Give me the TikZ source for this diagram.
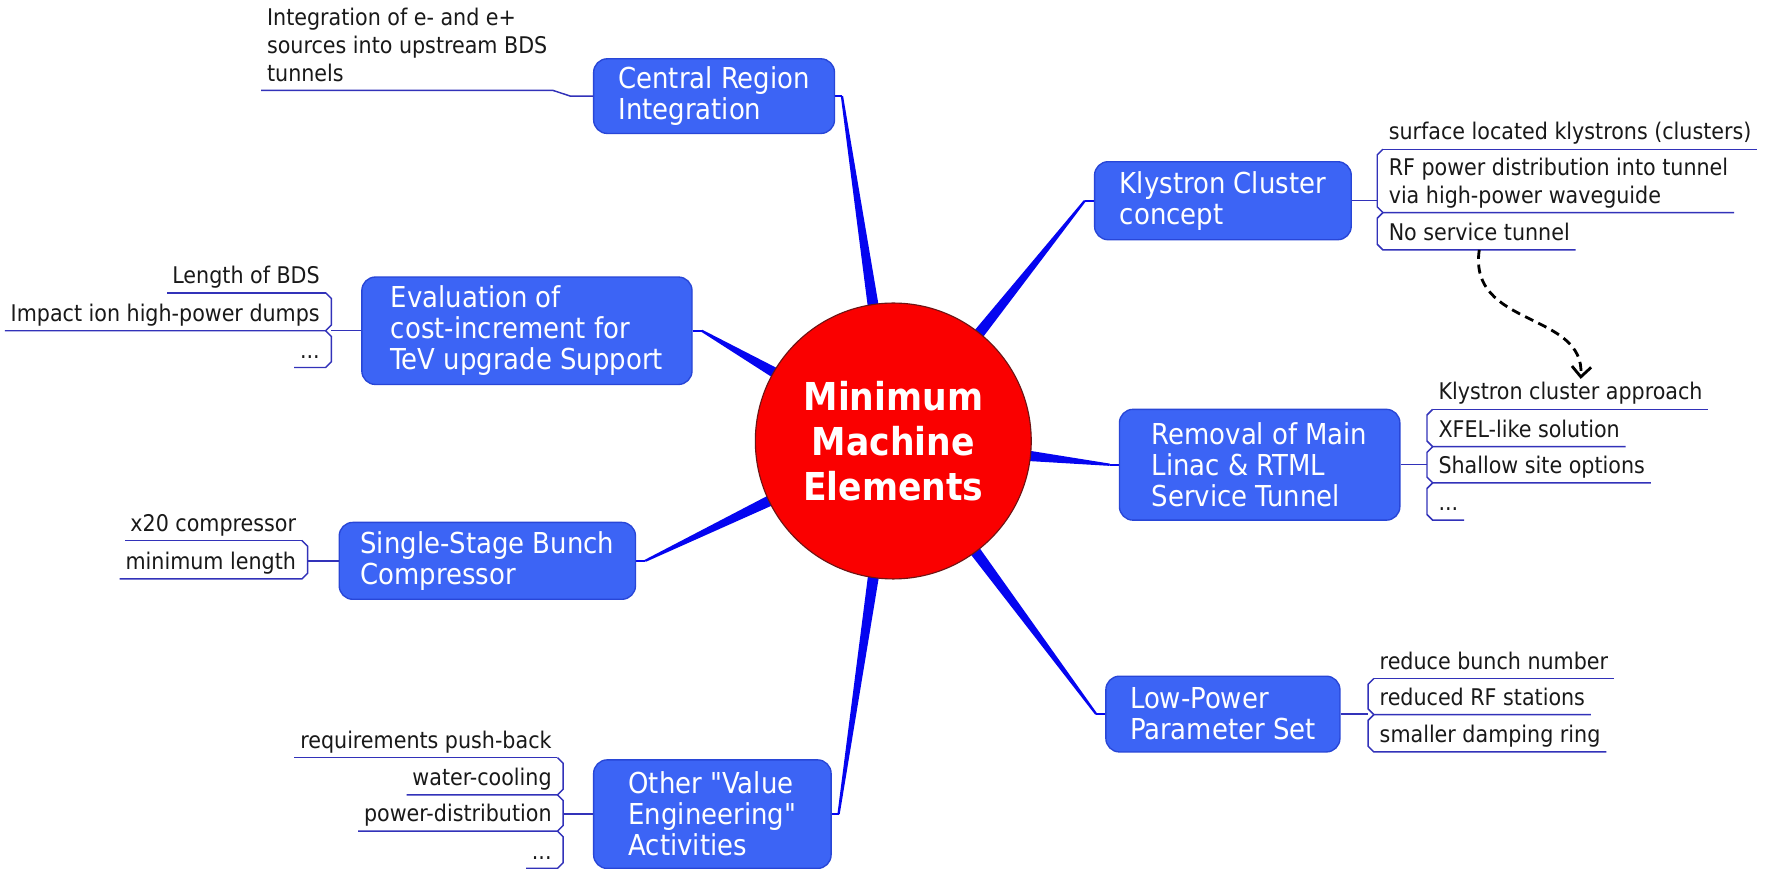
\documentclass[tikz,border=0pt]{standalone}
\usepackage{fontspec}
\usetikzlibrary{calc,arrows.meta}
\newfontfamily\mmfont{DejaVu Sans Condensed}
\definecolor{boxblue}{RGB}{60,100,245}
\definecolor{boxedge}{RGB}{40,70,215}
\definecolor{spokeblue}{RGB}{5,5,240}
\definecolor{ulblue}{RGB}{50,50,185}
\definecolor{txt}{RGB}{25,25,25}
\definecolor{hubred}{RGB}{250,0,0}
\definecolor{hubedge}{RGB}{110,20,20}
\newcommand\lowstrut{\rule[-0.25em]{0pt}{0.8em}}
\newcommand\spokeline[1]{%
  \coordinate (sq) at ($(hub.center)!112pt!(#1)$);
  \fill[spokeblue] ($(sq)!5pt!90:(#1)$) -- ($(#1)!1pt!-90:(sq)$) -- ($(#1)!1pt!90:(sq)$) -- ($(sq)!5pt!-90:(#1)$) -- cycle;}
\pgfdeclarelayer{bg}
\pgfsetlayers{bg,main}
\tikzset{
  mbox/.style={draw=boxedge, fill=boxblue, line width=1.2pt, rounded corners=12pt,
    text=white, align=left, inner sep=0pt, font=\mmfont\fontsize{25.5}{27.5}\selectfont},
  hubnode/.style={circle, fill=hubred, draw=hubedge, line width=1pt, minimum size=244pt,
    text=white, align=center, inner sep=0pt, font=\mmfont\bfseries\fontsize{34}{40}\selectfont},
  subr/.style={anchor=south west, text=txt, inner xsep=5pt, inner ysep=3pt, align=left,
    font=\mmfont\fontsize{20.3}{24.5}\selectfont, execute at end node=\lowstrut},
  subl/.style={subr, anchor=south east, align=right},
  subline/.style={draw=ulblue, line width=1.3pt},
  stub/.style={draw=spokeblue, line width=1.5pt},
  linkarrow/.style={draw=black, line width=2.5pt, dash pattern=on 8pt off 5pt,
    -{Straight Barb[length=9pt,width=17pt,line width=2.5pt]}}
}
\begin{document}
\begin{tikzpicture}[x=1pt,y=-1pt]
\useasboundingbox (0,0) rectangle (1568,768.5);
\begin{pgfonlayer}{bg}
\fill[white] (0,0) rectangle (1568,768.5);
\end{pgfonlayer}

% hub
\node[hubnode] (hub) at (790,390) {Minimum\\Machine\\Elements};

% main topics
\node[mbox, minimum width=213pt, minimum height=66pt] (cr) at (631.5,85) {Central Region\\Integration};
\node[mbox, minimum width=227pt, minimum height=69pt] (kc) at (1081.5,177.5) {Klystron Cluster\\concept};
\node[mbox, minimum width=292pt, minimum height=95pt] (ev) at (466,292.5) {Evaluation of\\cost-increment for\\TeV upgrade Support};
\node[mbox, minimum width=248pt, minimum height=98pt] (rm) at (1114,411) {Removal of Main\\Linac \& RTML\\Service Tunnel};
\node[mbox, minimum width=262pt, minimum height=68pt] (sb) at (431,496) {Single-Stage Bunch\\Compressor};
\node[mbox, minimum width=207pt, minimum height=67pt] (lp) at (1081.5,631.5) {Low-Power\\Parameter Set};
\node[mbox, minimum width=210pt, minimum height=96pt] (ov) at (630,720) {Other "Value\\Engineering"\\Activities};

% spokes
\begin{pgfonlayer}{bg}
\coordinate (crs) at ([xshift=6pt]cr.east);
\coordinate (kcs) at ([xshift=-8pt]kc.west);
\coordinate (evs) at ([xshift=8pt]ev.east);
\coordinate (rms) at ([xshift=-8pt]rm.west);
\coordinate (sbs) at ([xshift=8pt]sb.east);
\coordinate (lps) at ([xshift=-8pt]lp.west);
\coordinate (ovs) at ([xshift=6pt]ov.east);
\draw[stub] (cr.east) -- (crs);
\draw[stub] (kc.west) -- (kcs);
\draw[stub] (ev.east) -- (evs);
\draw[stub] (rm.west) -- (rms);
\draw[stub] (sb.east) -- (sbs);
\draw[stub] (lp.west) -- (lps);
\draw[stub] (ov.east) -- (ovs);
\spokeline{crs}
\spokeline{kcs}
\spokeline{evs}
\spokeline{rms}
\spokeline{sbs}
\spokeline{lps}
\spokeline{ovs}
\end{pgfonlayer}

% Central region item
\node[subr] (ci) at (231,80) {Integration of e- and e+\\sources into upstream BDS\\tunnels};
\draw[subline] (ci.south west) -- (ci.south east) -- ([xshift=-20pt]cr.west) -- (cr.west);

% Klystron cluster items
\node[subr] (k1) at (1223,132) {surface located klystrons (clusters)};
\node[subr] (k2) at (1223,188) {RF power distribution into tunnel\\via high-power waveguide};
\node[subr] (k3) at (1223,221) {No service tunnel};
\coordinate (kB) at (1218,0);
\draw[subline] (k1.south west) -- (k1.south east);
\draw[subline] (k1.south west) -- ++(-5,5) -- ([xshift=-5pt,yshift=5pt]k2.south west) -- (k2.south west) -- (k2.south east);
\draw[subline] (k2.south west) -- ++(-5,5) -- ([xshift=-5pt,yshift=5pt]k3.south west) -- (k3.south west) -- (k3.south east);
\draw[subline] (kc.east) -- (kc.east -| kB);

% Evaluation items
\node[subl] (e1) at (288,259) {Length of BDS};
\node[subl] (e2) at (288,292.5) {Impact ion high-power dumps};
\node[subl] (e3) at (288,325) {...};
\coordinate (eB) at (293,0);
\draw[subline] (e1.south east) -- (e1.south west);
\draw[subline] (e1.south east) -- ++(5,5) -- ([xshift=5pt,yshift=5pt]e2.south east) -- (e2.south east) -- (e2.south west);
\draw[subline] (e2.south east) -- ++(5,5) -- ([xshift=5pt,yshift=5pt]e3.south east) -- (e3.south east) -- (e3.south west);
\draw[subline] (ev.west) -- (ev.west -| eB);

% Removal items
\node[subr] (r1) at (1267,362) {Klystron cluster approach};
\node[subr] (r2) at (1267,395) {XFEL-like solution};
\node[subr] (r3) at (1267,427) {Shallow site options};
\node[subr] (r4) at (1267,460) {...};
\coordinate (rB) at (1262,0);
\draw[subline] (r1.south west) -- (r1.south east);
\draw[subline] (r1.south west) -- ++(-5,5) -- ([xshift=-5pt,yshift=5pt]r2.south west) -- (r2.south west) -- (r2.south east);
\draw[subline] (r2.south west) -- ++(-5,5) -- ([xshift=-5pt,yshift=5pt]r3.south west) -- (r3.south west) -- (r3.south east);
\draw[subline] (r3.south west) -- ++(-5,5) -- ([xshift=-5pt,yshift=5pt]r4.south west) -- (r4.south west) -- (r4.south east);
\draw[subline] (rm.east) -- (rm.east -| rB);

% Single-stage items
\node[subl] (s1) at (267,478) {x20 compressor};
\node[subl] (s2) at (267,512) {minimum length};
\coordinate (sB) at (272,0);
\draw[subline] (s1.south east) -- (s1.south west);
\draw[subline] (s1.south east) -- ++(5,5) -- ([xshift=5pt,yshift=5pt]s2.south east) -- (s2.south east) -- (s2.south west);
\draw[subline] (sb.west) -- (sb.west -| sB);

% Low-power items
\node[subr] (l1) at (1215,600) {reduce bunch number};
\node[subr] (l2) at (1215,632) {reduced RF stations};
\node[subr] (l3) at (1215,665) {smaller damping ring};
\coordinate (lB) at (1210,0);
\draw[subline] (l1.south west) -- (l1.south east);
\draw[subline] (l1.south west) -- ++(-5,5) -- ([xshift=-5pt,yshift=5pt]l2.south west) -- (l2.south west) -- (l2.south east);
\draw[subline] (l2.south west) -- ++(-5,5) -- ([xshift=-5pt,yshift=5pt]l3.south west) -- (l3.south west) -- (l3.south east);
\draw[subline] (lp.east) -- (lp.east -| lB);

% Other items
\node[subl] (o1) at (493,670) {requirements push-back};
\node[subl] (o2) at (493,703) {water-cooling};
\node[subl] (o3) at (493,735) {power-distribution};
\node[subl] (o4) at (493,768) {...};
\coordinate (oB) at (498,0);
\draw[subline] (o1.south east) -- (o1.south west);
\draw[subline] (o1.south east) -- ++(5,5) -- ([xshift=5pt,yshift=5pt]o2.south east) -- (o2.south east) -- (o2.south west);
\draw[subline] (o2.south east) -- ++(5,5) -- ([xshift=5pt,yshift=5pt]o3.south east) -- (o3.south east) -- (o3.south west);
\draw[subline] (o3.south east) -- ++(5,5) -- ([xshift=5pt,yshift=5pt]o4.south east) -- (o4.south east) -- (o4.south west);
\draw[subline] (ov.west) -- (ov.west -| oB);

% dashed link
\draw[linkarrow] (k3.south) .. controls (1298,290) and (1402,275) .. ([xshift=9pt]r1.north);
\end{tikzpicture}
\end{document}
